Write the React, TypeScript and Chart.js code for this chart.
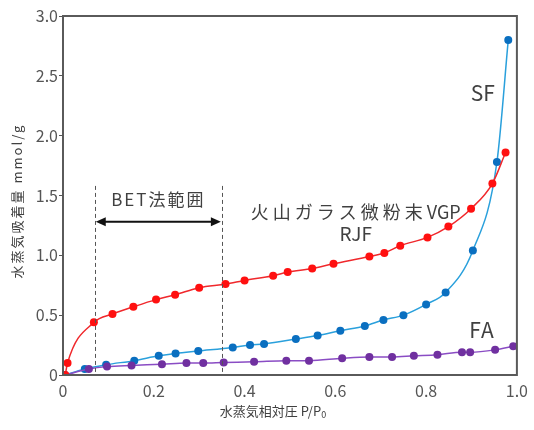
import React, { useEffect, useRef } from "react";
import { Chart, registerables } from "chart.js";

Chart.register(...registerables);

const rjfX = [0.005, 0.01, 0.068, 0.109, 0.155, 0.205, 0.247, 0.3, 0.358, 0.4, 0.463, 0.495, 0.549, 0.596, 0.675, 0.708, 0.743, 0.803, 0.849, 0.899, 0.946, 0.975];
const rjfY = [0, 0.1, 0.44, 0.51, 0.57, 0.63, 0.67, 0.73, 0.76, 0.79, 0.83, 0.86, 0.89, 0.93, 0.99, 1.02, 1.08, 1.15, 1.24, 1.39, 1.6, 1.86];

const sfX = [0.004, 0.048, 0.095, 0.157, 0.211, 0.248, 0.298, 0.374, 0.412, 0.443, 0.513, 0.561, 0.611, 0.665, 0.706, 0.75, 0.8, 0.843, 0.903, 0.956, 0.981];
const sfY = [0, 0.05, 0.086, 0.12, 0.16, 0.18, 0.2, 0.23, 0.25, 0.26, 0.3, 0.33, 0.37, 0.41, 0.46, 0.5, 0.59, 0.69, 1.04, 1.78, 2.8];

const faX = [0.004, 0.057, 0.097, 0.151, 0.218, 0.272, 0.309, 0.354, 0.421, 0.492, 0.542, 0.615, 0.675, 0.725, 0.773, 0.825, 0.879, 0.897, 0.952, 0.992];
const faY = [0, 0.05, 0.07, 0.08, 0.09, 0.1, 0.1, 0.105, 0.11, 0.12, 0.12, 0.14, 0.15, 0.15, 0.16, 0.17, 0.19, 0.19, 0.21, 0.24];

const xTickLabels = ["0", "0.2", "0.4", "0.6", "0.8", "1.0"];
const yTickLabels = ["0", "0.5", "1.0", "1.5", "2.0", "2.5", "3.0"];

const betRange = [0.07, 0.35];

const FONT = "'Noto Sans CJK JP', 'Noto Sans', sans-serif";
const TEXT = "#404040";

const toPts = (xs: number[], ys: number[]) => xs.map((x, i) => ({ x, y: ys[i] }));

const decorPlugin = {
  id: "decor",
  afterDraw(chart: any) {
    const { ctx, chartArea, scales } = chart;
    const xs = scales.x;
    const ys = scales.y;
    ctx.save();
    // frame
    ctx.strokeStyle = "#5a5a5a";
    ctx.lineWidth = 2;
    ctx.strokeRect(chartArea.left, chartArea.top, chartArea.right - chartArea.left, chartArea.bottom - chartArea.top);

    // BET dashed lines
    ctx.strokeStyle = "#555";
    ctx.lineWidth = 1;
    ctx.setLineDash([4, 3]);
    const topDash = ys.getPixelForValue(1.58);
    betRange.forEach((v) => {
      const px = Math.round(xs.getPixelForValue(v)) + 0.5;
      ctx.beginPath();
      ctx.moveTo(px, topDash);
      ctx.lineTo(px, chartArea.bottom);
      ctx.stroke();
    });
    ctx.setLineDash([]);

    // arrow
    const ay = ys.getPixelForValue(1.28);
    const ax1 = xs.getPixelForValue(betRange[0]) + 1;
    const ax2 = xs.getPixelForValue(betRange[1]) - 1;
    ctx.strokeStyle = "#111";
    ctx.fillStyle = "#111";
    ctx.lineWidth = 2;
    ctx.beginPath();
    ctx.moveTo(ax1 + 6, ay);
    ctx.lineTo(ax2 - 6, ay);
    ctx.stroke();
    ctx.beginPath();
    ctx.moveTo(ax1, ay);
    ctx.lineTo(ax1 + 10, ay - 4.5);
    ctx.lineTo(ax1 + 10, ay + 4.5);
    ctx.closePath();
    ctx.fill();
    ctx.beginPath();
    ctx.moveTo(ax2, ay);
    ctx.lineTo(ax2 - 10, ay - 4.5);
    ctx.lineTo(ax2 - 10, ay + 4.5);
    ctx.closePath();
    ctx.fill();

    // labels
    ctx.fillStyle = TEXT;
    ctx.textAlign = "center";
    ctx.textBaseline = "middle";
    const label = (t: string, vx: number, vy: number, size: number, spacing: string) => {
      ctx.font = `${size}px ${FONT}`;
      (ctx as any).letterSpacing = spacing;
      ctx.fillText(t, xs.getPixelForValue(vx), ys.getPixelForValue(vy));
    };
    label("BET法範囲", 0.21, 1.47, 17, "2px");
    label("RJF", 0.645, 1.18, 19, "0px");
    label("SF", 0.925, 2.36, 21, "0px");
    label("FA", 0.923, 0.38, 21, "1px");

    // VGP label: CJK part spaced, latin part tight
    {
      const partA = "火山ガラス微粉末";
      const partB = "VGP";
      ctx.font = `18px ${FONT}`;
      (ctx as any).letterSpacing = "4px";
      const wA = ctx.measureText(partA).width;
      (ctx as any).letterSpacing = "0px";
      const wB = ctx.measureText(partB).width;
      const cx = xs.getPixelForValue(0.645);
      const cy = ys.getPixelForValue(1.36);
      const sx = cx - (wA + wB) / 2;
      ctx.textAlign = "left";
      (ctx as any).letterSpacing = "4px";
      ctx.fillText(partA, sx, cy);
      (ctx as any).letterSpacing = "0px";
      ctx.fillText(partB, sx + wA, cy);
    }
    (ctx as any).letterSpacing = "0px";

    // x axis title
    ctx.font = `13px ${FONT}`;
    const main = "水蒸気相対圧 P/P";
    const sub = "0";
    ctx.textAlign = "left";
    const wMain = ctx.measureText(main).width;
    ctx.font = `9px ${FONT}`;
    const wSub = ctx.measureText(sub).width;
    const startX = 273 - (wMain + wSub) / 2;
    const ty = 411;
    ctx.font = `13px ${FONT}`;
    ctx.fillText(main, startX, ty);
    ctx.font = `9px ${FONT}`;
    ctx.fillText(sub, startX + wMain, ty + 4);

    // y axis title
    ctx.save();
    ctx.translate(17, 201);
    ctx.rotate(-Math.PI / 2);
    ctx.textAlign = "center";
    ctx.font = `13px ${FONT}`;
    (ctx as any).letterSpacing = "2px";
    ctx.fillText("水蒸気吸着量 mmol/g", 0, 0);
    ctx.restore();

    ctx.restore();
  },
};

export default function App() {
  const ref = useRef<HTMLCanvasElement | null>(null);
  useEffect(() => {
    if (!ref.current) return;
    const common = { showLine: true, borderWidth: 1.5, pointRadius: 4, pointHoverRadius: 4, pointBorderWidth: 0, cubicInterpolationMode: "monotone" as const };
    const chart = new Chart(ref.current, {
      type: "scatter",
      data: {
        datasets: [
          { label: "RJF", data: toPts(rjfX, rjfY), borderColor: "#f0282c", backgroundColor: "#ff1010", pointBackgroundColor: "#ff1010", ...common },
          { label: "FA", data: toPts(faX, faY), borderColor: "#8a4cc4", backgroundColor: "#7030a0", pointBackgroundColor: "#7030a0", ...common },
          { label: "SF", data: toPts(sfX, sfY), borderColor: "#2aa0dc", backgroundColor: "#0a6fc0", pointBackgroundColor: "#0a6fc0", ...common },
        ],
      },
      options: {
        animation: false,
        responsive: false,
        devicePixelRatio: 1,
        layout: { padding: { top: 16, right: 11, left: 0, bottom: 0 } },
        plugins: { legend: { display: false }, tooltip: { enabled: false } },
        scales: {
          x: {
            type: "linear",
            min: 0,
            max: 1,
            afterFit: (s: any) => { s.height = 55; },
            grid: { display: true, drawOnChartArea: false, drawTicks: false },
            border: { display: false },
            ticks: {
              stepSize: 0.2,
              padding: 6,
              color: "#555",
              font: { family: FONT, size: 16 },
              callback: (_v: any, i: number) => xTickLabels[i],
            },
          },
          y: {
            type: "linear",
            min: 0,
            max: 3,
            afterFit: (s: any) => { s.width = 63; },
            grid: { display: true, drawOnChartArea: false, drawTicks: true, tickLength: 4, color: "#555" },
            border: { display: false },
            ticks: {
              stepSize: 0.5,
              padding: 1,
              color: "#555",
              font: { family: FONT, size: 16 },
              callback: (_v: any, i: number) => yTickLabels[i],
            },
          },
        },
      },
      plugins: [decorPlugin],
    });
    return () => chart.destroy();
  }, []);
  return (
    <div style={{ position: "fixed", left: 0, top: 0, width: 534, height: 430, background: "#fff" }}>
      <canvas ref={ref} width={534} height={430} />
    </div>
  );
}
